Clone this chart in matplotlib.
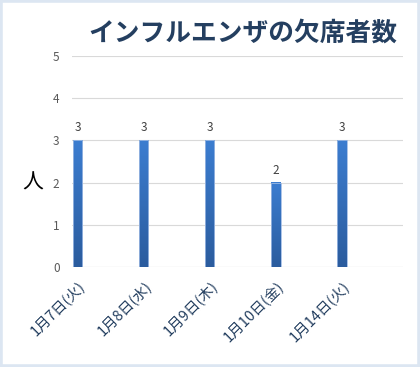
import matplotlib.pyplot as plt
import numpy as np
from matplotlib.colors import LinearSegmentedColormap
from matplotlib.patches import Rectangle

plt.rcParams['font.family'] = ['Noto Sans CJK JP', 'DejaVu Sans']

dates = ['1月7日(火)', '1月8日(水)', '1月9日(木)', '1月10日(金)', '1月14日(火)']
absent = [3, 3, 3, 2, 3]
yticks = [0, 1, 2, 3, 4, 5]

fig = plt.figure(figsize=(4.2, 3.67), dpi=100)
fig.patch.set_facecolor('white')
ax = fig.add_axes([72 / 420, 1 - 267 / 367, 331 / 420, 211 / 367])

x = np.arange(len(dates))
width = 0.15
cmap = LinearSegmentedColormap.from_list('bar', ['#2B5C9E', '#3C7DD0'])
grad = np.linspace(0, 1, 100).reshape(-1, 1)
for xi, v in zip(x, absent):
    ax.imshow(grad, cmap=cmap, origin='lower', aspect='auto',
              extent=(xi - width / 2, xi + width / 2, 0, v), zorder=3)
    ax.add_patch(Rectangle((xi - width / 2, 0), width, v, fill=False,
                           edgecolor='#9DB9E3', lw=0.6, zorder=4))
    ax.text(xi, v + 0.14, str(v), ha='center', va='bottom', fontsize=8.5,
            color='#404040')

ax.set_xlim(-0.083, 4.93)
ax.set_ylim(0, 5)
ax.set_yticks(yticks)
ax.set_yticklabels([str(t) for t in yticks], fontsize=8.5, color='#595959')
ax.set_xticks(x)
ax.set_xticklabels(dates, rotation=45, ha='right', rotation_mode='anchor',
                   fontsize=10.5, color='#243F60')
ax.tick_params(axis='y', length=0, pad=9)
ax.tick_params(axis='x', length=0, pad=8)
ax.yaxis.grid(True, color='#D9D9D9', lw=0.8, zorder=0)
for s in ax.spines.values():
    s.set_visible(False)
ax.axhline(0, color='#D9D9D9', lw=0.8, zorder=1)

fig.text(33 / 420, 1 - 183 / 367, '人', fontsize=15, ha='center', va='center',
         color='black')
fig.text(243 / 420, 1 - 33 / 367, 'インフルエンザの欠席者数', fontsize=18.5,
         fontweight='bold', ha='center', va='center', color='#243F60')

fig.add_artist(Rectangle((0, 0), 1, 1, transform=fig.transFigure, fill=False,
                         edgecolor='#DCE6F2', lw=4))

fig.savefig('out.png', dpi=100)
